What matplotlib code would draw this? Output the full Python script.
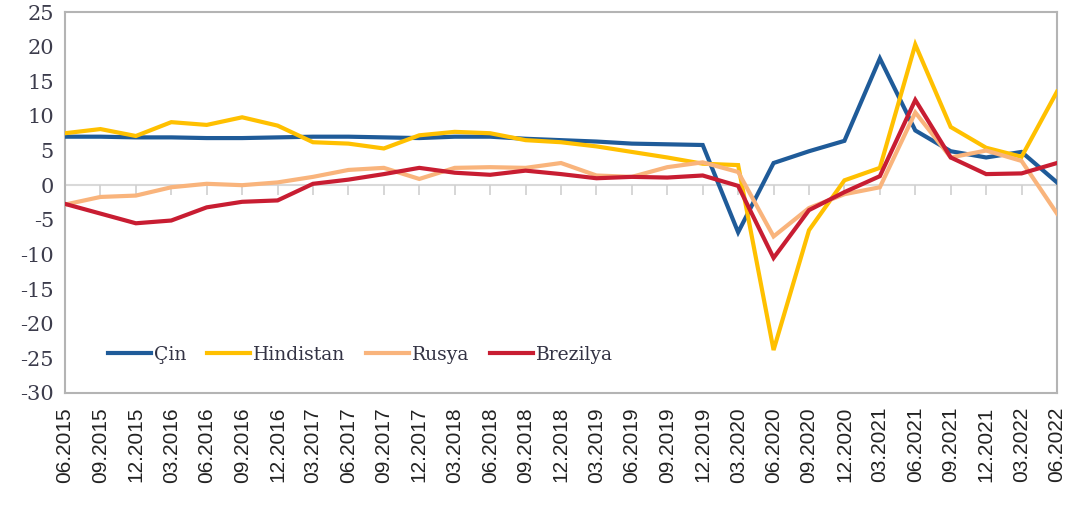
import numpy as np
import matplotlib.pyplot as plt

donemler = ["06.2015", "09.2015", "12.2015", "03.2016", "06.2016", "09.2016", "12.2016",
            "03.2017", "06.2017", "09.2017", "12.2017", "03.2018", "06.2018", "09.2018",
            "12.2018", "03.2019", "06.2019", "09.2019", "12.2019", "03.2020", "06.2020",
            "09.2020", "12.2020", "03.2021", "06.2021", "09.2021", "12.2021", "03.2022",
            "06.2022"]

cin = [7.0, 7.0, 6.9, 6.9, 6.8, 6.8, 6.9, 7.0, 7.0, 6.9, 6.8, 7.0, 7.0, 6.7,
       6.5, 6.3, 6.0, 5.9, 5.8, -6.8, 3.2, 4.9, 6.4, 18.3, 7.9, 4.9, 4.0, 4.8, 0.4]
hindistan = [7.5, 8.1, 7.1, 9.1, 8.7, 9.8, 8.6, 6.2, 6.0, 5.3, 7.2, 7.7, 7.5, 6.5,
             6.2, 5.6, 4.8, 4.0, 3.1, 2.9, -23.8, -6.5, 0.7, 2.5, 20.3, 8.4, 5.4, 4.1, 13.5]
rusya = [-2.8, -1.7, -1.5, -0.3, 0.2, 0.0, 0.4, 1.2, 2.2, 2.5, 0.9, 2.5, 2.6, 2.5,
         3.2, 1.4, 1.2, 2.6, 3.3, 1.9, -7.4, -3.3, -1.3, -0.3, 10.5, 4.0, 5.0, 3.5, -4.1]
brezilya = [-2.7, -4.1, -5.5, -5.1, -3.2, -2.4, -2.2, 0.2, 0.8, 1.6, 2.5, 1.8, 1.5, 2.1,
            1.6, 1.0, 1.2, 1.1, 1.4, -0.1, -10.5, -3.6, -1.0, 1.3, 12.3, 4.0, 1.6, 1.7, 3.2]

seriler = [("Çin", cin, "#1f5b99"),
           ("Hindistan", hindistan, "#ffc000"),
           ("Rusya", rusya, "#f9b47c"),
           ("Brezilya", brezilya, "#c81d32")]

fig = plt.figure(figsize=(10.66, 5.15), dpi=100)
ax = fig.add_axes([65/1066, 1 - 393/515, (1057 - 65)/1066, (393 - 12)/515])

x = np.arange(len(donemler))

# sifir cizgisi ve kucuk tikler
ax.axhline(0, color="#d9d9d9", lw=1.5, zorder=1)
ax.plot(x, np.zeros(len(x)), ls="none", marker=3, ms=7, mew=1.2, color="#d0d0d0", zorder=1)

for ad, y, renk in seriler:
    ax.plot(x, y, color=renk, lw=3, label=ad, solid_joinstyle="miter", zorder=3)

ax.set_xlim(0, len(x) - 1)
ax.set_ylim(-30, 25)
ax.set_yticks(np.arange(-30, 26, 5))
ax.set_yticklabels([str(v) for v in range(-30, 26, 5)], family="DejaVu Serif",
                   fontsize=15, color="#3c3c4c")
ax.set_xticks(x)
ax.set_xticklabels(donemler, rotation=90, family="Liberation Sans", fontsize=15,
                   color="#222222")
ax.tick_params(axis="both", length=0)
ax.tick_params(axis="y", pad=8)
ax.tick_params(axis="x", pad=10)

for s in ax.spines.values():
    s.set_color("#b4b4b4")
    s.set_linewidth(1.5)

ax.legend(loc="center left", bbox_to_anchor=(108/1066, 1 - 355/515),
          bbox_transform=fig.transFigure, ncol=4, frameon=False, borderpad=0,
          borderaxespad=0, handlelength=2.3, handletextpad=0.15, columnspacing=1.1,
          prop={"family": "DejaVu Serif", "size": 13.5}, labelcolor="#333344")

plt.savefig("out.png", dpi=100)
